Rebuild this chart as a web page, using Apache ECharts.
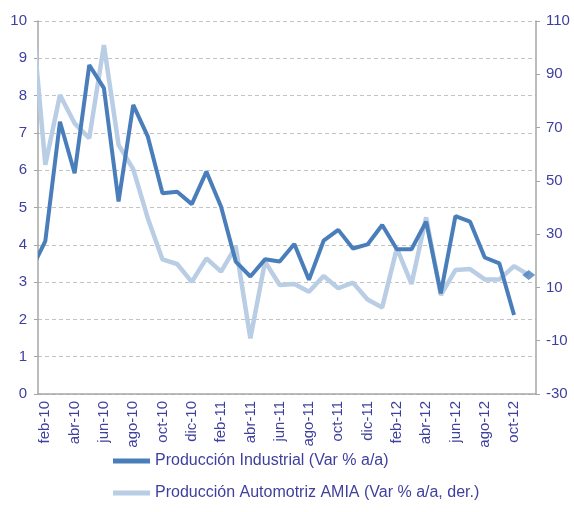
<!DOCTYPE html>
<html><head><meta charset="utf-8">
<script src="https://cdn.jsdelivr.net/npm/echarts@6/dist/echarts.min.js"></script>
<style>html,body{margin:0;padding:0;background:#fff}#c{width:574px;height:512px}</style>
</head><body><div id="c"></div>
<script>
// months: first one (ene-10) lies just left of the visible axis
var months = ['ene-10','feb-10','mar-10','abr-10','may-10','jun-10','jul-10','ago-10','sep-10','oct-10','nov-10','dic-10',
  'ene-11','feb-11','mar-11','abr-11','may-11','jun-11','jul-11','ago-11','sep-11','oct-11','nov-11','dic-11',
  'ene-12','feb-12','mar-12','abr-12','may-12','jun-12','jul-12','ago-12','sep-12','oct-12','nov-12'];
var industrial = [3.3, 4.1, 7.3, 5.92, 8.82, 8.2, 5.16, 7.75, 6.9, 5.38, 5.42, 5.09,
  5.96, 5.02, 3.55, 3.15, 3.61, 3.55, 4.02, 3.06, 4.11, 4.4, 3.9, 4.01,
  4.53, 3.88, 3.88, 4.62, 2.7, 4.77, 4.62, 3.66, 3.5, 2.12, null];
var automotriz = [118, 56, 82.2, 71.6, 66, 101, 63.5, 54.4, 35.9, 20.5, 18.8, 12.1,
  20.9, 15.9, 25.3, -9.1, 19.7, 10.9, 11.3, 8.4, 14.3, 9.7, 11.8, 5.5,
  2.5, 24.7, 11.3, 36.3, 7.1, 16.5, 16.9, 13, 13, 18, 14.7];
var leftTicks = {min: 0, max: 10, interval: 1};
var rightTicks = {min: -30, max: 110, interval: 20};
var names = ['Producción Industrial (Var % a/a)', 'Producción Automotriz AMIA (Var % a/a, der.)'];

var axisCats = months.slice(1);
function pairs(arr){ return arr.map(function(v,i){ return [i-1, v]; }); }
var lastIdx = months.length - 1;

// layout
var W = 574, H = 512, GL = 38, GR = 38, GT = 21, GB = 118;
var pw = W - GL - GR, ph = H - GT - GB;
var inset = 2; // inner grid so that the series clip path lands on the plot border
var nCat = axisCats.length;
var xMinIn = -0.5 + inset * nCat / pw;
var lMaxIn = leftTicks.max - inset * (leftTicks.max - leftTicks.min) / ph;
var rMaxIn = rightTicks.max - inset * (rightTicks.max - rightTicks.min) / ph;

var txt = '#3F3F9E', axisGray = '#A6A6A6';
var dark = '#4A7EBB', light = '#B9CDE5';
var ff = 'Liberation Sans, Arial, sans-serif';
var chart = echarts.init(document.getElementById('c'), null, {renderer:'canvas'});
chart.setOption({
  animation: false,
  textStyle: {fontFamily: ff},
  grid: [
    {left: GL, right: GR, top: GT, bottom: GB, containLabel: false},
    {left: GL + inset, right: GR, top: GT + inset, bottom: GB, containLabel: false}
  ],
  legend: {
    data: names, orient: 'vertical', left: 108, top: 448, itemGap: 16,
    itemWidth: 37, itemHeight: 5, icon: 'rect',
    textStyle: {color: txt, fontSize: 16, fontFamily: ff}
  },
  xAxis: [{
    gridIndex: 0, type: 'category', data: axisCats, boundaryGap: true, position: 'bottom',
    axisLine: {lineStyle: {color: axisGray, width: 1.5}},
    axisTick: {interval: 1, length: 5, lineStyle: {color: axisGray, width: 1}},
    axisLabel: {interval: 1, rotate: 90, color: txt, fontSize: 15, margin: 7},
    splitLine: {show: false}
  }, {
    gridIndex: 1, type: 'value', min: xMinIn, max: nCat - 0.5, show: false,
    splitLine: {show: false}
  }],
  yAxis: [{
    gridIndex: 0, type: 'value', min: leftTicks.min, max: leftTicks.max, interval: leftTicks.interval,
    position: 'left',
    axisLine: {show: true, lineStyle: {color: axisGray, width: 1.5}},
    axisTick: {show: true, length: 4, lineStyle: {color: axisGray}},
    axisLabel: {color: txt, fontSize: 15, margin: 11},
    splitLine: {show: true, lineStyle: {color: '#C3C3C3', type: [4, 3], width: 1}}
  }, {
    gridIndex: 0, type: 'value', min: rightTicks.min, max: rightTicks.max, interval: rightTicks.interval,
    position: 'right',
    axisLine: {show: true, lineStyle: {color: axisGray, width: 1.5}},
    axisTick: {show: true, length: 4, lineStyle: {color: axisGray}},
    axisLabel: {color: txt, fontSize: 15, margin: 10},
    splitLine: {show: false}
  }, {
    gridIndex: 1, type: 'value', min: leftTicks.min, max: lMaxIn, show: false, position: 'left',
    splitLine: {show: false}
  }, {
    gridIndex: 1, type: 'value', min: rightTicks.min, max: rMaxIn, show: false, position: 'right',
    splitLine: {show: false}
  }],
  series: [{
    name: names[0], type: 'line', xAxisIndex: 1, yAxisIndex: 2,
    data: pairs(industrial), showSymbol: false, symbol: 'none', clip: true,
    lineStyle: {color: dark, width: 4}, itemStyle: {color: dark}, z: 3
  }, {
    name: names[1], type: 'line', xAxisIndex: 1, yAxisIndex: 3,
    data: pairs(automotriz), showSymbol: false, symbol: 'none', clip: true,
    lineStyle: {color: light, width: 4.5}, itemStyle: {color: light}, z: 2
  }, {
    name: 'marker', type: 'scatter', xAxisIndex: 1, yAxisIndex: 3,
    data: [[lastIdx - 1, automotriz[lastIdx]]], symbol: 'diamond', symbolSize: [13, 10],
    itemStyle: {color: dark}, z: 4, silent: true
  }]
});
</script></body></html>
